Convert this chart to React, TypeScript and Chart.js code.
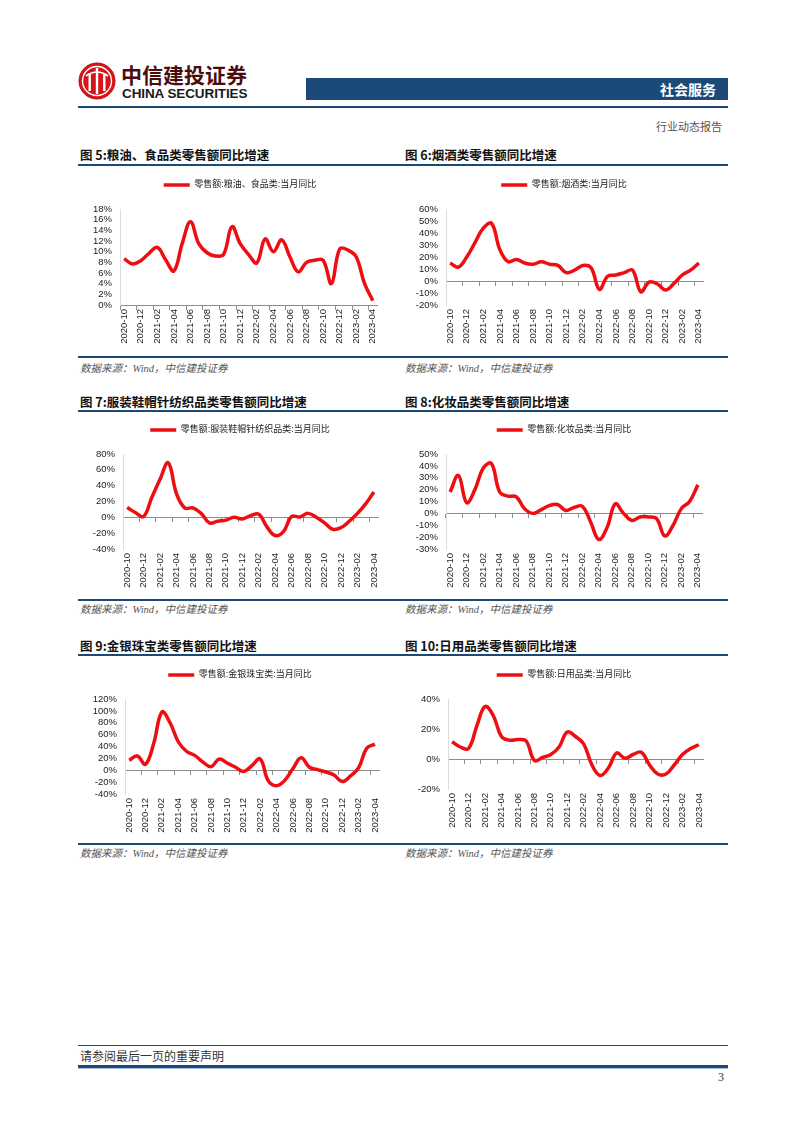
import React, { useEffect, useRef } from "react";
import { Chart, registerables } from "chart.js";

Chart.register(...registerables);

// ---------------- data ----------------
const months = [
  "2020-10", "2020-11", "2020-12",
  "2021-01", "2021-02", "2021-03", "2021-04", "2021-05", "2021-06",
  "2021-07", "2021-08", "2021-09", "2021-10", "2021-11", "2021-12",
  "2022-01", "2022-02", "2022-03", "2022-04", "2022-05", "2022-06",
  "2022-07", "2022-08", "2022-09", "2022-10", "2022-11", "2022-12",
  "2023-01", "2023-02", "2023-03", "2023-04",
];

const grainOilFood = [
  8.7, 7.7, 8.3, 9.7, 10.8, 8.5, 6.4, 11.5, 15.6, 11.5, 9.8, 9.2, 9.5, 14.7, 11.5,
  9.5, 7.9, 12.4, 10.0, 12.2, 9.0, 6.2, 8.0, 8.4, 8.4, 4.0, 10.5, 10.3, 9.0, 4.0, 0.8,
];

const tobaccoLiquor = [
  15, 11.5, 20, 32, 44, 48, 26, 16, 18, 15, 14, 16, 14, 13, 7,
  9, 13, 11, -7, 4, 5, 7, 9, -9, -1, -2.5, -7.5, -2, 5, 9, 15,
];

const apparel = [
  12.5, 6, 1, 25, 48, 69, 30, 12, 12, 5, -7, -5, -3.5, 0, -2,
  2, 4, -12, -23, -18, 1, 0.5, 5, 0, -7, -15, -13, -5, 5, 17, 32,
];

const cosmetics = [
  18, 32, 9, 20, 38, 42, 18, 14.5, 14, 4, 0, 3, 6.5, 7.5, 2.5,
  5, 6, -7, -22, -12, 8, 0, -6, -3, -3, -4.5, -19, -10, 4, 10, 24,
];

const jewelry = [
  17, 24, 10, 45, 98, 80, 48, 32, 25, 14, 6, 19, 12, 5, -2,
  8, 19, -18, -26, -17, 3, 21, 5, 1, -3, -8, -19, -10, 4, 37, 44,
];

const dailyUse = [
  11.5, 8, 7, 22, 35, 29, 15, 12.5, 13, 12, -1, 1, 3, 8, 18,
  15, 10, -4, -11, -6, 4, 0.5, 3, 4.5, -4, -10, -10, -4, 3, 7, 9.5,
];

const seriesLabels = [
  "零售额:粮油、食品类:当月同比",
  "零售额:烟酒类:当月同比",
  "零售额:服装鞋帽针纺织品类:当月同比",
  "零售额:化妆品类:当月同比",
  "零售额:金银珠宝类:当月同比",
  "零售额:日用品类:当月同比",
];

const figureTitles = [
  "图 5:粮油、食品类零售额同比增速",
  "图 6:烟酒类零售额同比增速",
  "图 7:服装鞋帽针纺织品类零售额同比增速",
  "图 8:化妆品类零售额同比增速",
  "图 9:金银珠宝类零售额同比增速",
  "图 10:日用品类零售额同比增速",
];

const yRanges = [
  { min: 0, max: 18, step: 2 },
  { min: -20, max: 60, step: 10 },
  { min: -40, max: 80, step: 20 },
  { min: -30, max: 50, step: 10 },
  { min: -40, max: 120, step: 20 },
  { min: -20, max: 40, step: 20 },
];

const seriesValues = [grainOilFood, tobaccoLiquor, apparel, cosmetics, jewelry, dailyUse];

// ---------------- styles / layout ----------------
const RED = "#ee0d12";
const BLUE = "#1b4a78";
const AXIS = "#8c8c8c";
const NUM_FONT = "'Liberation Sans', Arial, 'Noto Sans CJK SC', sans-serif";
const CJK_FONT = "'Noto Sans CJK SC', 'Liberation Sans', sans-serif";

type Box = { x: number; y: number; w: number; h: number };
type Plot = { left: number; right: number; top: number; bottom: number };
type Layout = { box: Box; plot: Plot; legendX: number; legendY: number };

const layouts: Layout[] = [
  { box: { x: 75, y: 170, w: 320, h: 178 }, plot: { left: 120, right: 377, top: 209, bottom: 305 }, legendX: 240, legendY: 185 },
  { box: { x: 400, y: 170, w: 320, h: 178 }, plot: { left: 446, right: 703, top: 209, bottom: 305 }, legendX: 564, legendY: 185 },
  { box: { x: 75, y: 415, w: 320, h: 180 }, plot: { left: 123, right: 378, top: 454, bottom: 549 }, legendX: 240, legendY: 430 },
  { box: { x: 400, y: 415, w: 320, h: 180 }, plot: { left: 446, right: 702, top: 454, bottom: 549 }, legendX: 564, legendY: 430 },
  { box: { x: 75, y: 660, w: 320, h: 180 }, plot: { left: 125, right: 379, top: 699, bottom: 794 }, legendX: 240, legendY: 675 },
  { box: { x: 400, y: 660, w: 320, h: 180 }, plot: { left: 448, right: 703, top: 699, bottom: 789 }, legendX: 564, legendY: 675 },
];

const rows = [
  { title: 155, rule: 165, srcRule: 357, src: 368 },
  { title: 402, rule: 411, srcRule: 600, src: 609 },
  { title: 646, rule: 655, srcRule: 844, src: 853 },
];

function LineChart({ idx }: { idx: number }) {
  const ref = useRef<HTMLCanvasElement | null>(null);
  const lay = layouts[idx];
  const { box, plot } = lay;

  useEffect(() => {
    const canvas = ref.current;
    if (!canvas) return;
    const legendFont = 9;
    const legendPad = 6;
    const R = box.x + box.w - plot.right;
    const yWidth = plot.left - box.x;
    const xHeight = box.y + box.h - plot.bottom;
    const P = lay.legendY - box.y - legendPad - legendFont / 2;
    const extra = plot.top - box.y - P - (legendFont + legendPad + 10);
    const legendCenter = lay.legendX - box.x;
    const range = yRanges[idx];
    const zero = Math.max(range.min, 0);

    const legendPlace = {
      id: "legendPlace",
      beforeLayout(chart: any) {
        const lg = chart.legend;
        if (lg && !lg.__patched) {
          const orig = lg.fit;
          lg.fit = function () {
            orig.call(this);
            this.height += extra;
          };
          lg.__patched = true;
        }
      },
      afterLayout(chart: any) {
        const lg = chart.legend;
        if (!lg) return;
        const dx = legendCenter - (lg.left + lg.right) / 2;
        lg.left += dx;
        lg.right += dx;
      },
    };

    const chart = new Chart(canvas, {
      type: "line",
      data: {
        labels: months,
        datasets: [
          {
            label: seriesLabels[idx],
            data: seriesValues[idx],
            borderColor: RED,
            backgroundColor: RED,
            borderWidth: 3.5,
            pointRadius: 0,
            pointHoverRadius: 0,
            tension: 0.4,
            fill: false,
          },
        ],
      },
      options: {
        animation: false,
        responsive: false,
        maintainAspectRatio: false,
        events: [],
        layout: { padding: { left: 0, right: R, top: P, bottom: 0 } },
        plugins: {
          tooltip: { enabled: false },
          legend: {
            display: true,
            position: "top",
            align: "center",
            labels: {
              usePointStyle: true,
              pointStyle: "line",
              pointStyleWidth: 26,
              boxHeight: legendFont,
              padding: legendPad,
              color: "#222",
              font: { size: legendFont, family: NUM_FONT },
            },
          },
        },
        scales: {
          x: {
            type: "category",
            offset: true,
            grid: { display: false, drawTicks: false },
            border: { display: false },
            ticks: {
              autoSkip: false,
              minRotation: 90,
              maxRotation: 90,
              padding: 4,
              color: "#222",
              font: { size: 9.5, family: NUM_FONT },
              callback: (_v: any, i: number) => (i % 2 === 0 ? months[i] : ""),
            },
            afterFit: (s: any) => {
              s.height = xHeight;
            },
          },
          x2: {
            type: "category",
            position: { y: zero },
            offset: true,
            grid: {
              display: true,
              offset: true,
              drawOnChartArea: false,
              drawTicks: true,
              tickLength: 4,
              color: "rgba(0,0,0,0)",
              tickColor: (ctx: any) => (ctx.index % 2 === 0 ? AXIS : "rgba(0,0,0,0)"),
            },
            border: { display: true, color: AXIS, width: 1 },
            ticks: { display: false },
          },
          y: {
            type: "linear",
            min: range.min,
            max: range.max,
            grid: { display: false, drawTicks: false },
            border: { display: true, color: "#dcdcdc", width: 1 },
            ticks: {
              stepSize: range.step,
              autoSkip: false,
              padding: 8,
              color: "#222",
              font: { size: 9.5, family: NUM_FONT },
              callback: (v: any) => `${v}%`,
            },
            afterFit: (s: any) => {
              s.width = yWidth;
            },
          },
        },
      } as any,
      plugins: [legendPlace],
    });
    return () => chart.destroy();
  }, []);

  return (
    <canvas
      ref={ref}
      width={box.w}
      height={box.h}
      style={{ position: "absolute", left: box.x, top: box.y, width: box.w, height: box.h }}
    />
  );
}

function Txt({
  x, y, children, size = 12, color = "#222", weight = 400, family = CJK_FONT, align = "left", italic = false,
}: any) {
  const h = size * 1.6;
  const style: any = {
    position: "absolute",
    top: y - h / 2,
    height: h,
    lineHeight: `${h}px`,
    fontSize: size,
    color,
    fontWeight: weight,
    fontFamily: family,
    fontStyle: italic ? "italic" : "normal",
    whiteSpace: "nowrap",
  };
  if (align === "right") style.right = 802 - x;
  else style.left = x;
  return <div style={style}>{children}</div>;
}

function Rule({ y, x1 = 78, x2 = 728, w = 1, color = BLUE }: any) {
  return (
    <div style={{ position: "absolute", left: x1, top: y - w / 2, width: x2 - x1, height: w, background: color }} />
  );
}

function Logo() {
  return (
    <svg style={{ position: "absolute", left: 78, top: 62 }} width={38} height={38} viewBox="0 0 38 38">
      <circle cx={19} cy={19} r={18} fill="#d7141a" />
      <circle cx={19} cy={19} r={14.5} fill="none" stroke="#fff" strokeWidth={1.4} />
      <rect x={10.5} y={11} width={2.4} height={18} fill="#fff" />
      <rect x={17.8} y={6} width={2.4} height={26} fill="#fff" />
      <rect x={25.1} y={11} width={2.4} height={18} fill="#fff" />
      <path d="M8 14 Q19 6 30 14" fill="none" stroke="#fff" strokeWidth={1.6} />
      <circle cx={19} cy={19} r={18} fill="none" stroke="#b30f14" strokeWidth={1} />
    </svg>
  );
}

export default function App() {
  return (
    <div
      style={{
        position: "absolute",
        left: 0,
        top: 0,
        width: 802,
        height: 1133,
        background: "#fff",
        overflow: "hidden",
      }}
    >
      {/* header */}
      <Logo />
      <Txt x={121} y={75} size={21} weight={700} color="#4a0c0e" family={CJK_FONT}>
        中信建投证券
      </Txt>
      <Txt x={122} y={94} size={13.5} weight={700} color="#1a1a1a" family={NUM_FONT}>
        <span style={{ letterSpacing: "-0.1px" }}>CHINA SECURITIES</span>
      </Txt>
      <div style={{ position: "absolute", left: 306, top: 78, width: 422, height: 22, background: BLUE }} />
      <Txt x={716} y={89} size={14} weight={700} color="#fff" align="right">
        社会服务
      </Txt>
      <Rule y={107} w={1.5} />
      <Txt x={722} y={127} size={11} color="#555" align="right">
        行业动态报告
      </Txt>

      {rows.map((r, ri) => (
        <React.Fragment key={ri}>
          <Txt x={80} y={r.title} size={12.5} weight={700} color="#111">
            {figureTitles[ri * 2]}
          </Txt>
          <Txt x={405} y={r.title} size={12.5} weight={700} color="#111">
            {figureTitles[ri * 2 + 1]}
          </Txt>
          <Rule y={r.rule} w={2} />
          <Rule y={r.srcRule} w={1.5} />
          <Txt x={80} y={r.src} size={10.5} color="#555" italic>
            数据来源：<span style={{ fontFamily: "'Liberation Serif', serif" }}>Wind</span>，中信建投证券
          </Txt>
          <Txt x={405} y={r.src} size={10.5} color="#555" italic>
            数据来源：<span style={{ fontFamily: "'Liberation Serif', serif" }}>Wind</span>，中信建投证券
          </Txt>
        </React.Fragment>
      ))}

      {layouts.map((_, i) => (
        <LineChart key={i} idx={i} />
      ))}

      {/* footer */}
      <Rule y={1045} w={1} />
      <Txt x={80} y={1056} size={12} color="#333">
        请参阅最后一页的重要声明
      </Txt>
      <Rule y={1066} w={3} />
      <Rule y={1068.5} w={1} color="#a9c4e0" />
      <Txt x={724} y={1078} size={12} color="#333" family="'Liberation Serif', serif" align="right">
        3
      </Txt>
    </div>
  );
}
